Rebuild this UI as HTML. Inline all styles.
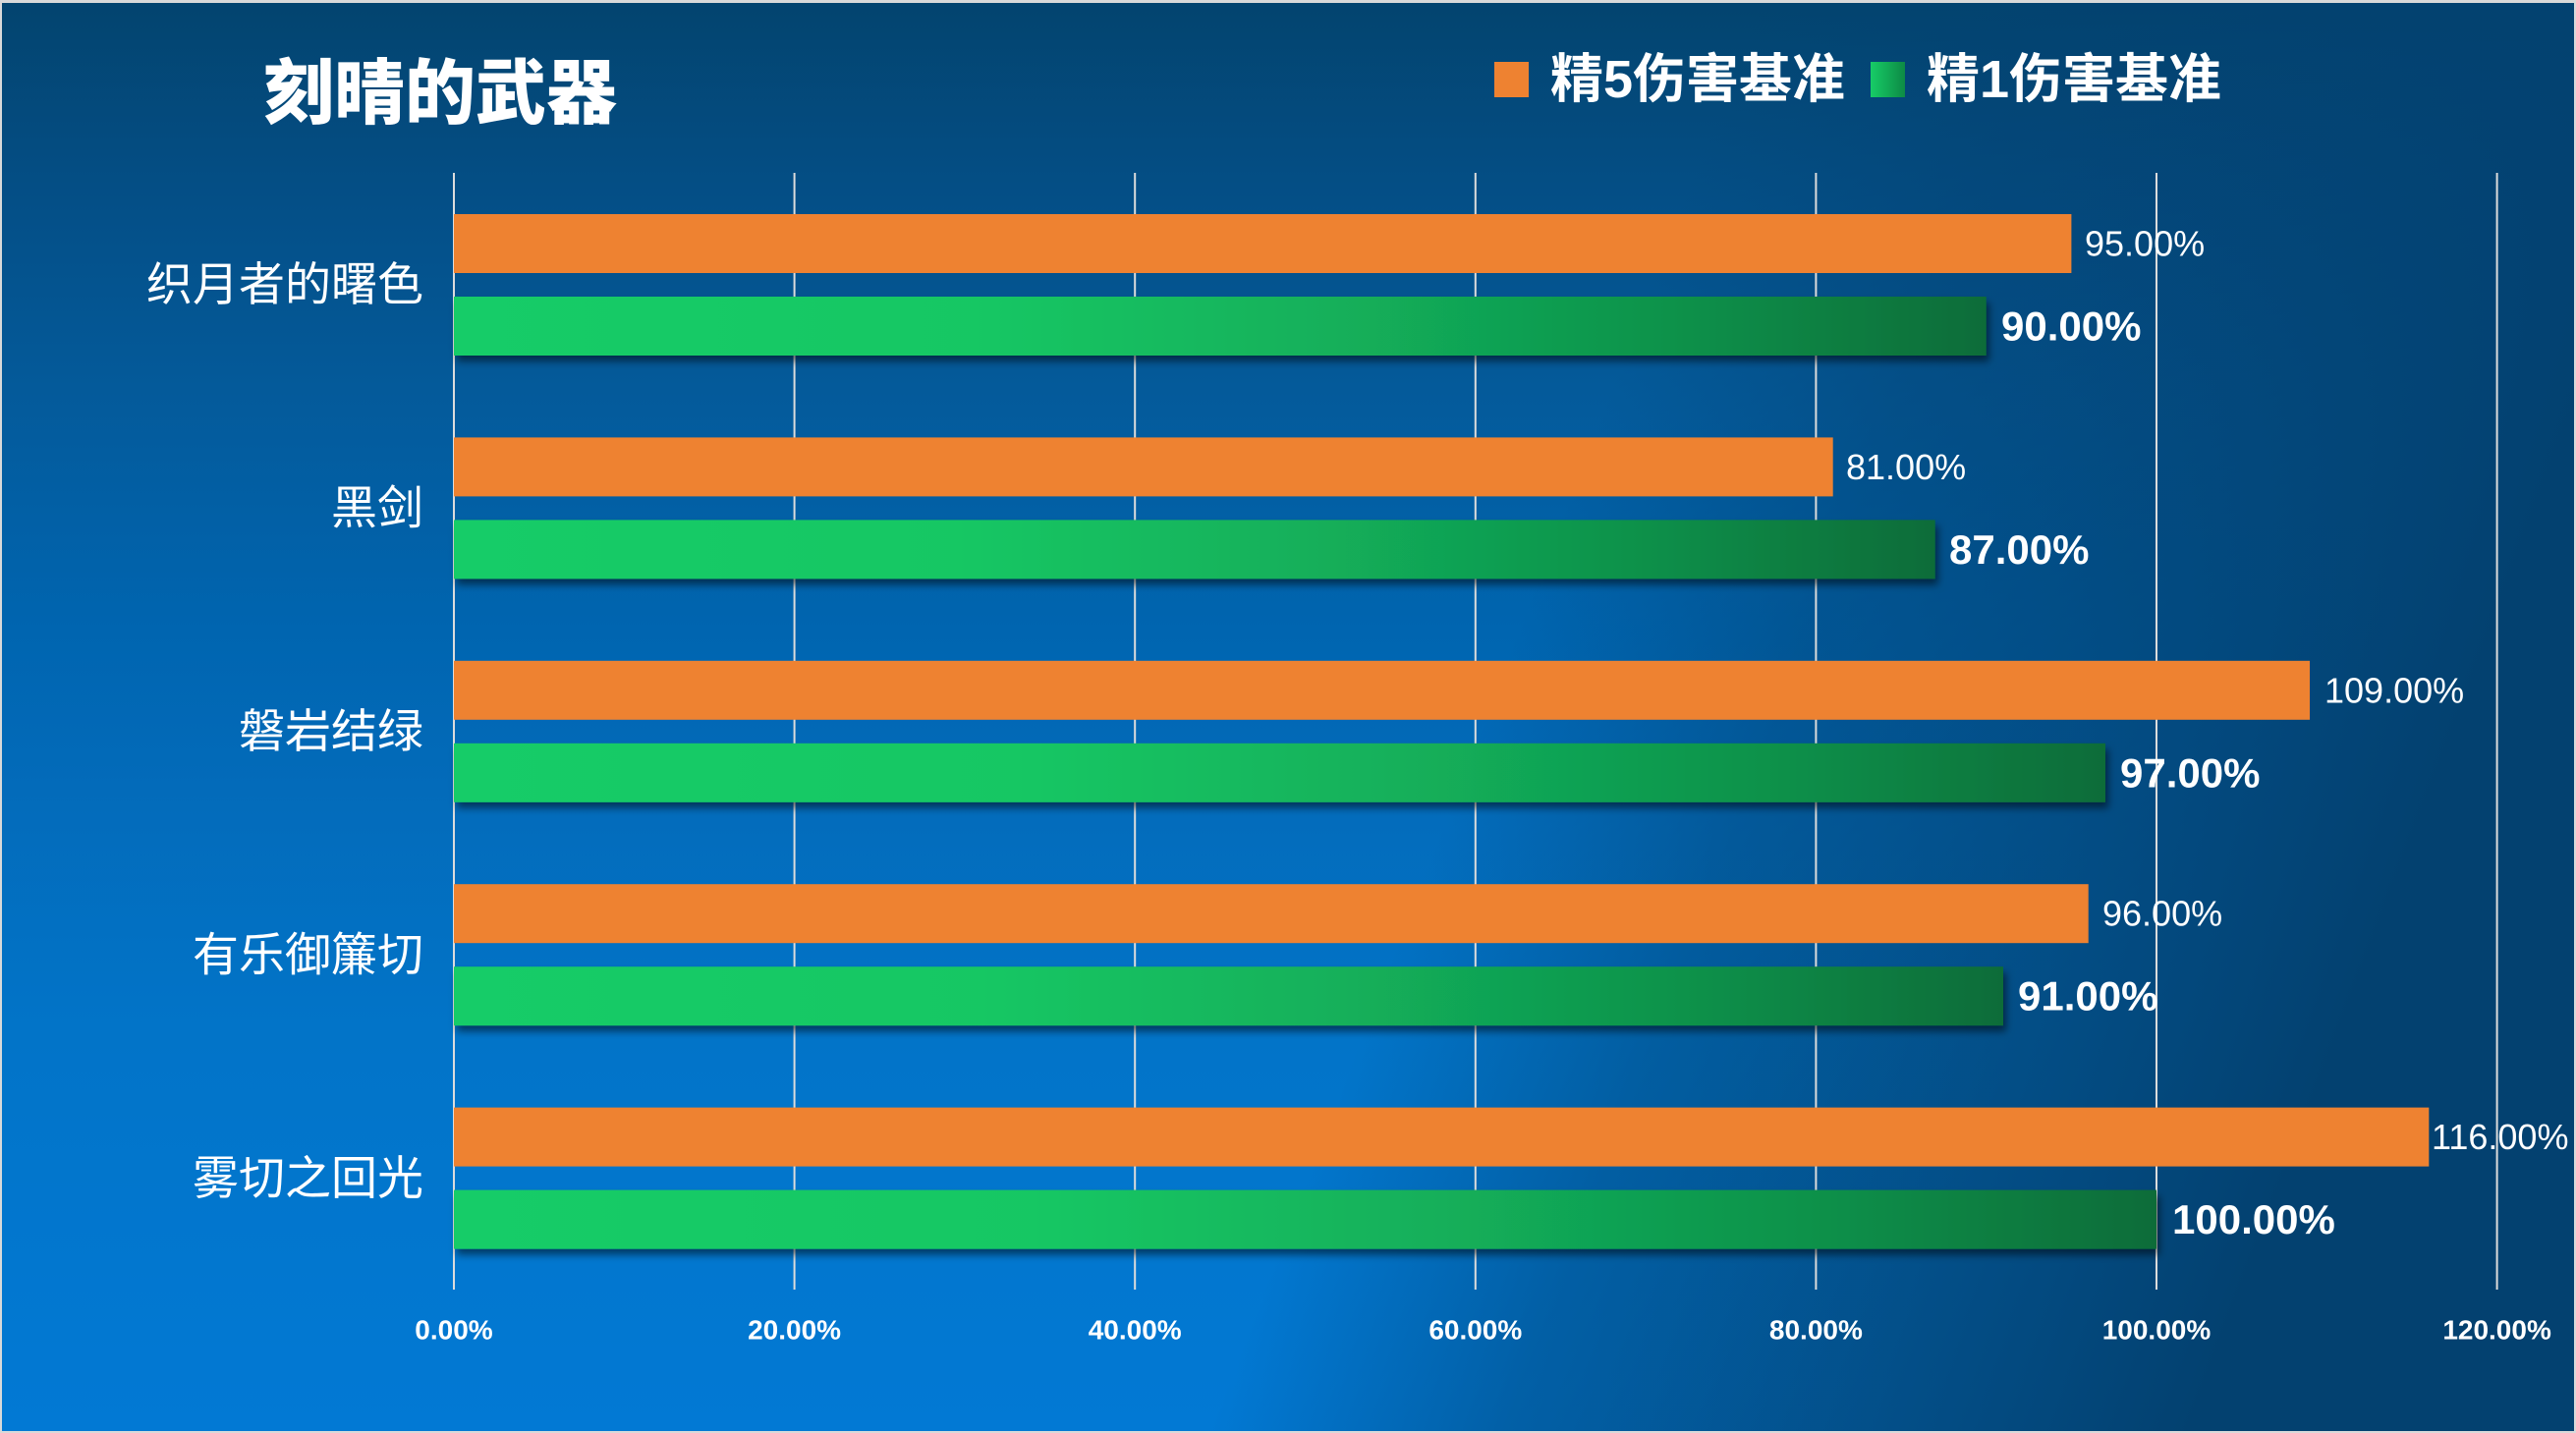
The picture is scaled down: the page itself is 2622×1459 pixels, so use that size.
<!DOCTYPE html>
<html>
<head>
<meta charset="utf-8">
<style>
html,body{margin:0;padding:0;background:#d9d9d9;}
body{width:2622px;height:1459px;overflow:hidden;}
svg{display:block;}
text{font-family:"Liberation Sans","Noto Sans CJK SC",sans-serif;fill:#ffffff;}
</style>
</head>
<body>
<svg width="2622" height="1459" viewBox="0 0 2622 1459" xmlns="http://www.w3.org/2000/svg">
  <defs>
    <linearGradient id="bgV" x1="0" y1="0" x2="0" y2="1">
      <stop offset="0" stop-color="#03446f"/>
      <stop offset="0.14" stop-color="#044f87"/>
      <stop offset="0.27" stop-color="#045a9a"/>
      <stop offset="0.44" stop-color="#0065b0"/>
      <stop offset="0.55" stop-color="#036bba"/>
      <stop offset="0.72" stop-color="#0274c8"/>
      <stop offset="1" stop-color="#0279d4"/>
    </linearGradient>
    <linearGradient id="bgO" gradientUnits="userSpaceOnUse" x1="1560" y1="600" x2="2430" y2="934">
      <stop offset="0" stop-color="#034170" stop-opacity="0"/>
      <stop offset="0.3" stop-color="#034170" stop-opacity="0.45"/>
      <stop offset="1" stop-color="#034170" stop-opacity="1"/>
    </linearGradient>
    <linearGradient id="gb" x1="0" y1="0" x2="1" y2="0">
      <stop offset="0" stop-color="#17cc67"/>
      <stop offset="0.34" stop-color="#15c764"/>
      <stop offset="0.6" stop-color="#12ad59"/>
      <stop offset="0.8" stop-color="#0f914a"/>
      <stop offset="1" stop-color="#0b6c39"/>
    </linearGradient>
    <linearGradient id="gl" x1="0" y1="0" x2="1" y2="0">
      <stop offset="0" stop-color="#17cc67"/>
      <stop offset="1" stop-color="#0d8a45"/>
    </linearGradient>
    <filter id="sh" x="-5%" y="-30%" width="110%" height="170%">
      <feDropShadow dx="3" dy="6" stdDeviation="4" flood-color="#000" flood-opacity="0.5"/>
    </filter>
  </defs>

  <!-- background -->
  <rect x="0" y="0" width="2622" height="1459" fill="#d9d9d9"/>
  <rect x="2" y="3" width="2618" height="1454" fill="url(#bgV)"/>
  <rect x="2" y="3" width="2618" height="1454" fill="url(#bgO)"/>

  <!-- title -->
  <text x="268" y="96" font-size="72" font-weight="900" dominant-baseline="central">刻晴的武器</text>

  <!-- legend -->
  <rect x="1521" y="63" width="35" height="36" fill="#ee8231"/>
  <text x="1578" y="81" font-size="54" font-weight="bold" dominant-baseline="central">精5伤害基准</text>
  <rect x="1904" y="63" width="35" height="36" fill="url(#gl)"/>
  <text x="1961" y="81" font-size="54" font-weight="bold" dominant-baseline="central">精1伤害基准</text>

  <!-- gridlines -->
  <g stroke="#dcdcdc" stroke-width="2">
    <line x1="462" y1="176" x2="462" y2="1313"/>
    <line x1="808.6" y1="176" x2="808.6" y2="1313"/>
    <line x1="1155.2" y1="176" x2="1155.2" y2="1313"/>
    <line x1="1501.8" y1="176" x2="1501.8" y2="1313"/>
    <line x1="1848.4" y1="176" x2="1848.4" y2="1313"/>
    <line x1="2195" y1="176" x2="2195" y2="1313"/>
    <line x1="2541.6" y1="176" x2="2541.6" y2="1313"/>
  </g>

  <!-- category labels -->
  <g font-size="47" text-anchor="end" dominant-baseline="central">
    <text x="431" y="289.7">织月者的曙色</text>
    <text x="431" y="517.1">黑剑</text>
    <text x="431" y="744.5">磐岩结绿</text>
    <text x="431" y="971.9">有乐御簾切</text>
    <text x="431" y="1199.3">雾切之回光</text>
  </g>

  <!-- orange bars -->
  <g fill="#ee8231">
    <rect x="462" y="218" width="1646.4" height="60"/>
    <rect x="462" y="445.4" width="1403.7" height="60"/>
    <rect x="462" y="672.8" width="1889" height="60"/>
    <rect x="462" y="900.2" width="1663.7" height="60"/>
    <rect x="462" y="1127.6" width="2010.3" height="60"/>
  </g>

  <!-- green bars -->
  <g filter="url(#sh)">
    <rect x="462" y="302" width="1559.7" height="60" fill="url(#gb)"/>
    <rect x="462" y="529.4" width="1507.7" height="60" fill="url(#gb)"/>
    <rect x="462" y="756.8" width="1681" height="60" fill="url(#gb)"/>
    <rect x="462" y="984.2" width="1577" height="60" fill="url(#gb)"/>
    <rect x="462" y="1211.6" width="1733" height="60" fill="url(#gb)"/>
  </g>

  <!-- orange value labels -->
  <g font-size="36" dominant-baseline="central">
    <text x="2122" y="248">95.00%</text>
    <text x="1879" y="475.4">81.00%</text>
    <text x="2366" y="702.8">109.00%</text>
    <text x="2140" y="930.2">96.00%</text>
    <text x="2475" y="1157.6">116.00%</text>
  </g>

  <!-- green value labels -->
  <g font-size="42" font-weight="bold" dominant-baseline="central">
    <text x="2037" y="332">90.00%</text>
    <text x="1984" y="559.4">87.00%</text>
    <text x="2158" y="786.8">97.00%</text>
    <text x="2054" y="1014.2">91.00%</text>
    <text x="2211" y="1241.6">100.00%</text>
  </g>

  <!-- axis labels -->
  <g font-size="28" font-weight="bold" text-anchor="middle" dominant-baseline="central">
    <text x="462" y="1354">0.00%</text>
    <text x="808.6" y="1354">20.00%</text>
    <text x="1155.2" y="1354">40.00%</text>
    <text x="1501.8" y="1354">60.00%</text>
    <text x="1848.4" y="1354">80.00%</text>
    <text x="2195" y="1354">100.00%</text>
    <text x="2541.6" y="1354">120.00%</text>
  </g>
</svg>
</body>
</html>
